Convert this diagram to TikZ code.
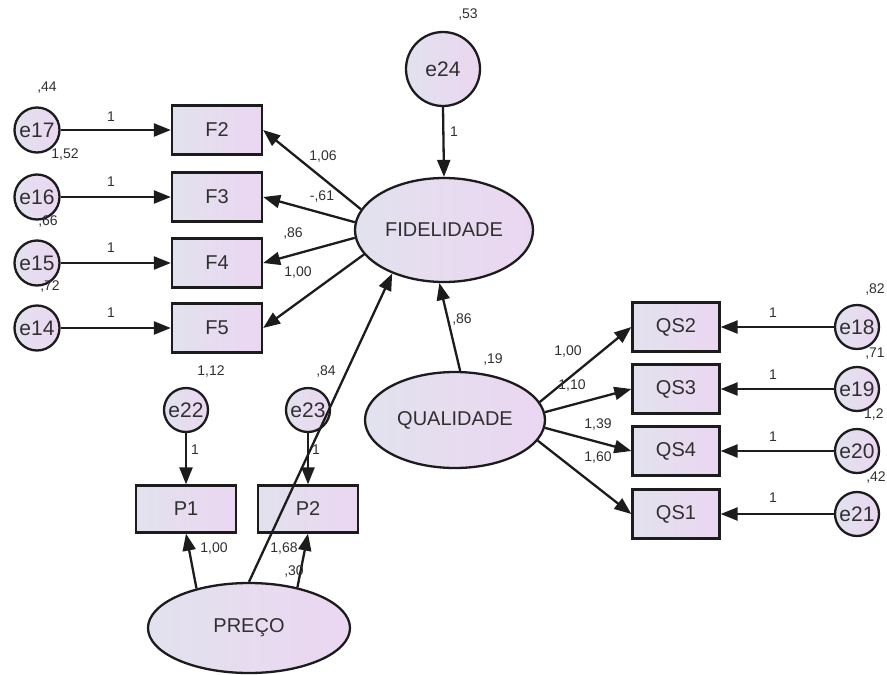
\documentclass[tikz,border=0pt]{standalone}
\usepackage{fontspec}
\setmainfont{Liberation Sans}
\usetikzlibrary{arrows.meta,shapes.geometric}
\definecolor{fillL}{HTML}{E2E2EE}
\definecolor{fillR}{HTML}{EBD6F1}
\definecolor{ink}{HTML}{1C1C1C}
\definecolor{txt}{HTML}{303030}
\begin{document}
\begin{tikzpicture}[x=1pt,y=-1pt,
  shaded/.style={draw=ink,line width=2.3pt,left color=fillL,right color=fillR,inner sep=0pt,text=txt},
  obs/.style={shaded,rectangle,minimum width=90pt,minimum height=49pt,font=\fontsize{20}{20}\selectfont},
  lat/.style={shaded,ellipse,font=\fontsize{20}{20}\selectfont},
  err/.style={shaded,circle,minimum size=45pt,font=\fontsize{21}{21}\selectfont},
  link/.style={draw=ink,line width=2.3pt,-{Triangle[length=17pt,width=13pt]}},
  num/.style={font=\fontsize{14}{14}\selectfont,text=txt,inner sep=0pt}
]
\fill[white] (0,0) rectangle (887,675);
\useasboundingbox (0,0) rectangle (887,675);

% indicators of FIDELIDADE and their errors
\node[err] (e17) at (37,130) {e17};
\node[err] (e16) at (37,197) {e16};
\node[err] (e15) at (37,263) {e15};
\node[err] (e14) at (37,328) {e14};
\node[obs] (F2) at (217,130) {F2};
\node[obs] (F3) at (217,197) {F3};
\node[obs] (F4) at (217,263) {F4};
\node[obs] (F5) at (217,328) {F5};

% latent variables
\node[lat,minimum width=178pt,minimum height=104pt] (fid) at (444,230) {FIDELIDADE};
\node[err,minimum size=74pt] (e24) at (443,69) {e24};
\node[lat,minimum width=180pt,minimum height=96pt] (qual) at (455,420) {QUALIDADE};
\node[lat,minimum width=202pt,minimum height=90pt] (preco) at (249,628) {PREÇO};

% indicators of QUALIDADE and their errors
\node[obs,minimum width=87pt] (QS2) at (676,327) {QS2};
\node[obs,minimum width=87pt] (QS3) at (676,389) {QS3};
\node[obs,minimum width=87pt] (QS4) at (676,451) {QS4};
\node[obs,minimum width=87pt] (QS1) at (676,514) {QS1};
\node[err,minimum size=44pt] (e18) at (857,327) {e18};
\node[err,minimum size=44pt] (e19) at (857,389) {e19};
\node[err,minimum size=44pt] (e20) at (857,451) {e20};
\node[err,minimum size=44pt] (e21) at (857,514) {e21};

% indicators of PREÇO and their errors
\node[obs,minimum width=100pt,minimum height=47pt] (P1) at (186,509) {P1};
\node[obs,minimum width=100pt,minimum height=47pt] (P2) at (308,509) {P2};
\node[err,minimum size=44pt] (e22) at (186,410) {e22};
\node[err,minimum size=44pt] (e23) at (308,410) {e23};

% paths
\draw[link] (e17.east) -- (F2.west);
\draw[link] (e16.east) -- (F3.west);
\draw[link] (e15.east) -- (F4.west);
\draw[link] (e14.east) -- (F5.west);
\draw[link] (fid.166) -- (F2.east);
\draw[link] (fid.175) -- (F3.east);
\draw[link] (fid.185) -- (F4.east);
\draw[link] (fid.197) -- (F5.east);
\draw[link] (e24.south) -- (fid.north);
\draw[link] (qual.84) -- (fid.265);
\draw[link] (qual.12) -- (QS2.west);
\draw[link] (qual.5) -- (QS3.west);
\draw[link] (qual.-5) -- (QS4.west);
\draw[link] (qual.-14) -- (QS1.west);
\draw[link] (e18.west) -- (QS2.east);
\draw[link] (e19.west) -- (QS3.east);
\draw[link] (e20.west) -- (QS4.east);
\draw[link] (e21.west) -- (QS1.east);
\draw[link] (e22.south) -- (P1.north);
\draw[link] (e23.south) -- (P2.north);
\draw[link] (preco.143) -- (P1.south);
\draw[link] (preco.40) -- (P2.south);
\draw[link] (preco.north) -- (fid.220);

% estimates
\node[num] at (468,15) {,53};
\node[num] at (454,132) {1};
\node[num] at (323,157) {1,06};
\node[num] at (322,197) {-,61};
\node[num] at (293,234) {,86};
\node[num] at (298,273) {1,00};
\node[num] at (462,320) {,86};
\node[num] at (493,360) {,19};
\node[num] at (568,352) {1,00};
\node[num] at (572,386) {1,10};
\node[num] at (598,425) {1,39};
\node[num] at (598,458) {1,60};
\node[num] at (773,313) {1};
\node[num] at (773,375) {1};
\node[num] at (773,437) {1};
\node[num] at (773,498) {1};
\node[num] at (875,290) {,82};
\node[num] at (875,354) {,71};
\node[num,anchor=west] at (864,415) {1,2};
\node[num] at (876,478) {,42};
\node[num] at (47,88) {,44};
\node[num] at (65,155) {1,52};
\node[num] at (48,222) {,66};
\node[num] at (50,287) {,72};
\node[num] at (111,117) {1};
\node[num] at (111,182) {1};
\node[num] at (111,248) {1};
\node[num] at (111,313) {1};
\node[num] at (211,372) {1,12};
\node[num] at (326,372) {,84};
\node[num] at (195,450) {1};
\node[num] at (316,450) {1};
\node[num] at (214,549) {1,00};
\node[num] at (284,549) {1,68};
\node[num] at (294,572) {,30};
\end{tikzpicture}
\end{document}
